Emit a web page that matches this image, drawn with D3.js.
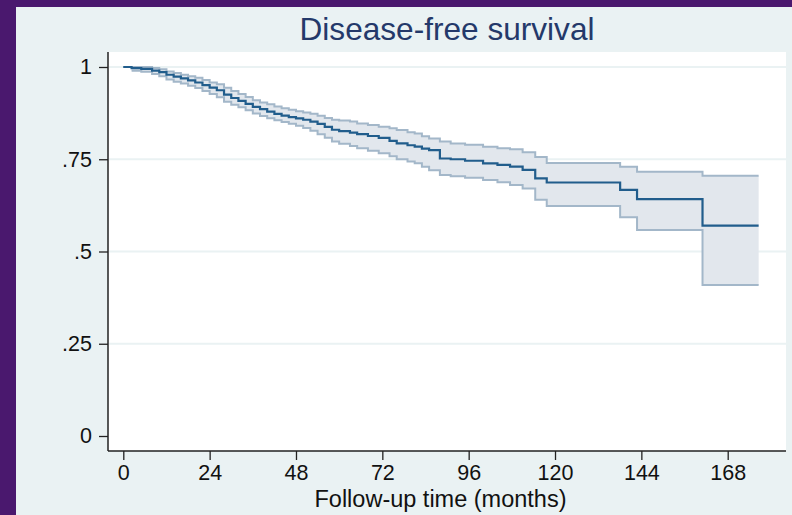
<!DOCTYPE html>
<html><head><meta charset="utf-8">
<script src="https://cdn.jsdelivr.net/npm/d3@7"></script>
<style>html,body{margin:0;padding:0;background:#eaf2f3;}svg{display:block;}</style>
</head><body><svg id="c" width="792" height="515"></svg>
<script>
// Kaplan-Meier step times (months) and estimates
const times = [0,2.3,5,8,10,12,14,16,18,20,22,24,26,28,30,32,34,36,38,40,42,44,46,48,50,52,54,56,58,60,63,65,68,71,74,76,79,81,83,85,88,91,95,100,104,107.5,111,114.5,117.7,138.1,142.8,161,176.6];
const survival = [1,.997,.995,.990,.986,.979,.974,.969,.964,.958,.951,.944,.937,.925,.916,.908,.900,.892,.886,.879,.873,.868,.864,.861,.857,.852,.846,.838,.830,.826,.822,.818,.813,.808,.800,.793,.788,.784,.779,.775,.752,.750,.746,.739,.735,.730,.721,.698,.687,.667,.642,.570,.570];
const lowerCI = [1,.990,.987,.981,.975,.966,.960,.955,.949,.943,.935,.927,.918,.906,.898,.891,.883,.874,.867,.861,.856,.851,.846,.841,.835,.827,.818,.808,.798,.792,.786,.780,.773,.766,.758,.750,.744,.739,.730,.720,.707,.704,.700,.694,.688,.680,.671,.640,.623,.593,.558,.409,.409];
const upperCI = [1,1,1,.997,.994,.988,.984,.979,.975,.971,.965,.958,.953,.944,.935,.927,.919,.910,.904,.899,.893,.888,.884,.880,.877,.873,.868,.862,.857,.855,.852,.847,.843,.838,.834,.829,.823,.820,.812,.806,.798,.793,.789,.784,.780,.777,.769,.756,.740,.730,.716,.705,.705];
const xTicks = [0,24,48,72,96,120,144,168];
const yTicks = [0,.25,.5,.75,1];
const yTickLabels = ["0",".25",".5",".75","1"];
const titleText = "Disease-free survival";
const xTitle = "Follow-up time (months)";

const data = times.map((t,i)=>({t, s:survival[i], lo:lowerCI[i], hi:upperCI[i]}));
const svg = d3.select("#c");
const font = "'Liberation Sans', Arial, sans-serif";

// frame
svg.append("rect").attr("x",0).attr("y",0).attr("width",792).attr("height",515).attr("fill","#eaf2f3");
svg.append("rect").attr("x",0).attr("y",0).attr("width",16).attr("height",515).attr("fill","#4a186e");
svg.append("rect").attr("x",0).attr("y",0).attr("width",792).attr("height",7).attr("fill","#4a186e");

const plot = {left:108, right:786, top:52, bottom:451};
svg.append("rect").attr("x",plot.left).attr("y",plot.top).attr("width",plot.right-plot.left).attr("height",plot.bottom-plot.top).attr("fill","#ffffff");

const x = d3.scaleLinear().domain([0,168]).range([123.3,727.7]);
const y = d3.scaleLinear().domain([0,1]).range([436,67]);

// gridlines
svg.append("g").selectAll("line").data(yTicks.filter(d=>d>0)).join("line")
  .attr("x1",plot.left+1).attr("x2",plot.right).attr("y1",d=>y(d)).attr("y2",d=>y(d))
  .attr("stroke","#eaf2f3").attr("stroke-width",2);

// CI band
const area = d3.area().curve(d3.curveStepAfter).x(d=>x(d.t)).y0(d=>y(d.lo)).y1(d=>y(d.hi));
svg.append("path").datum(data).attr("d",area).attr("fill","#e2e7ed");
const lineLo = d3.line().curve(d3.curveStepAfter).x(d=>x(d.t)).y(d=>y(d.lo));
const lineHi = d3.line().curve(d3.curveStepAfter).x(d=>x(d.t)).y(d=>y(d.hi));
svg.append("path").datum(data.slice(1)).attr("d",lineLo).attr("fill","none").attr("stroke","#a3b7c9").attr("stroke-width",2);
svg.append("path").datum(data).attr("d",lineHi).attr("fill","none").attr("stroke","#a3b7c9").attr("stroke-width",2);
const lineS = d3.line().curve(d3.curveStepAfter).x(d=>x(d.t)).y(d=>y(d.s));
svg.append("path").datum(data).attr("d",lineS).attr("fill","none").attr("stroke","#215d8c").attr("stroke-width",2.2);

// axes
const xAxis = d3.axisBottom(x).tickValues(xTicks).tickSize(9).tickPadding(5).tickSizeOuter(0);
const gx = svg.append("g").attr("transform",`translate(0,${plot.bottom})`).call(xAxis);
gx.select(".domain").remove();
gx.append("line").attr("x1",plot.left).attr("x2",plot.right).attr("y1",0).attr("y2",0).attr("stroke","#222").attr("stroke-width",1.5);
gx.selectAll(".tick line").attr("stroke","#222").attr("stroke-width",1.3);
gx.selectAll(".tick text").attr("font-family",font).attr("font-size",21.5).attr("fill","#111");

const yAxis = d3.axisLeft(y).tickValues(yTicks).tickFormat((d,i)=>yTickLabels[i]).tickSize(9).tickPadding(7).tickSizeOuter(0);
const gy = svg.append("g").attr("transform",`translate(${plot.left},0)`).call(yAxis);
gy.select(".domain").remove();
gy.append("line").attr("x1",0).attr("x2",0).attr("y1",plot.top).attr("y2",plot.bottom).attr("stroke","#222").attr("stroke-width",1.5);
gy.selectAll(".tick line").attr("stroke","#222").attr("stroke-width",1.3);
gy.selectAll(".tick text").attr("font-family",font).attr("font-size",21.5).attr("fill","#111");

// titles
svg.append("text").attr("x",447).attr("y",40).attr("text-anchor","middle")
  .attr("font-family",font).attr("font-size",31.6).attr("fill","#24396a").text(titleText);
svg.append("text").attr("x",440.5).attr("y",507).attr("text-anchor","middle")
  .attr("font-family",font).attr("font-size",23.5).attr("fill","#111").text(xTitle);
</script></body></html>
